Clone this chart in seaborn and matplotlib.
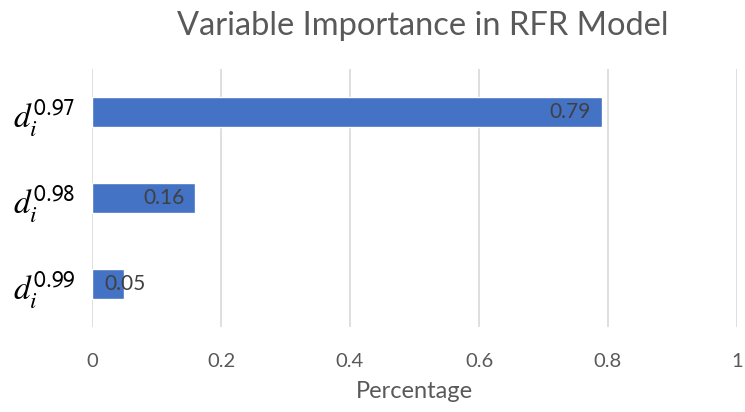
import matplotlib
matplotlib.use("Agg")
import matplotlib.pyplot as plt
import seaborn as sns
import pandas as pd

# values
variables = [r"$d_i^{\mathsf{0.97}}$", r"$d_i^{\mathsf{0.98}}$", r"$d_i^{\mathsf{0.99}}$"]
importance = [0.79, 0.16, 0.05]
value_labels = ["0.79", "0.16", "0.05"]
xticks = [0, 0.2, 0.4, 0.6, 0.8, 1.0]
xtick_labels = ["0", "0.2", "0.4", "0.6", "0.8", "1"]

sns.set_style("white")
plt.rcParams["font.family"] = ["Lato", "DejaVu Sans"]
plt.rcParams["mathtext.fontset"] = "stix"

df = pd.DataFrame({"variable": variables, "importance": importance})

fig = plt.figure(figsize=(7.45, 4.12), dpi=100)
ax = fig.add_axes([92 / 745, 85 / 412, 645 / 745, 258 / 412])

sns.barplot(data=df, x="importance", y="variable", orient="h",
            color="#4472C4", saturation=1, width=0.35, ax=ax, zorder=3)

ax.set_xlim(0, 1)
ax.set_ylim(2.5, -0.5)
ax.set_xticks(xticks)
ax.set_xticklabels(xtick_labels)
ax.grid(axis="x", color="#d9d9d9", linewidth=1.2, zorder=0)
ax.grid(axis="y", visible=False)
for s in ax.spines.values():
    s.set_visible(False)
ax.tick_params(axis="x", length=0, pad=19, labelsize=14.5, labelcolor="#595959")
ax.tick_params(axis="y", length=0, pad=12, labelsize=24, labelcolor="#000000")
ax.set_ylabel("")
ax.set_xlabel("Percentage", fontsize=17, color="#595959", labelpad=8)

# data labels, Excel "inside end"
px = 1.0 / 645
for i, (v, lab) in enumerate(zip(importance, value_labels)):
    if v > 0.1:
        ax.text(v - 11 * px, i, lab, ha="right", va="center",
                fontsize=15, color="#404040", zorder=4)
    else:
        ax.text(v + 1 * px, i, lab, ha="center", va="center",
                fontsize=15, color="#404040", zorder=4)

fig.text(423 / 745, 1 - 26 / 412, "Variable Importance in RFR Model",
         ha="center", va="center", fontsize=23.5, color="#595959")

fig.savefig("out.png", dpi=100)
